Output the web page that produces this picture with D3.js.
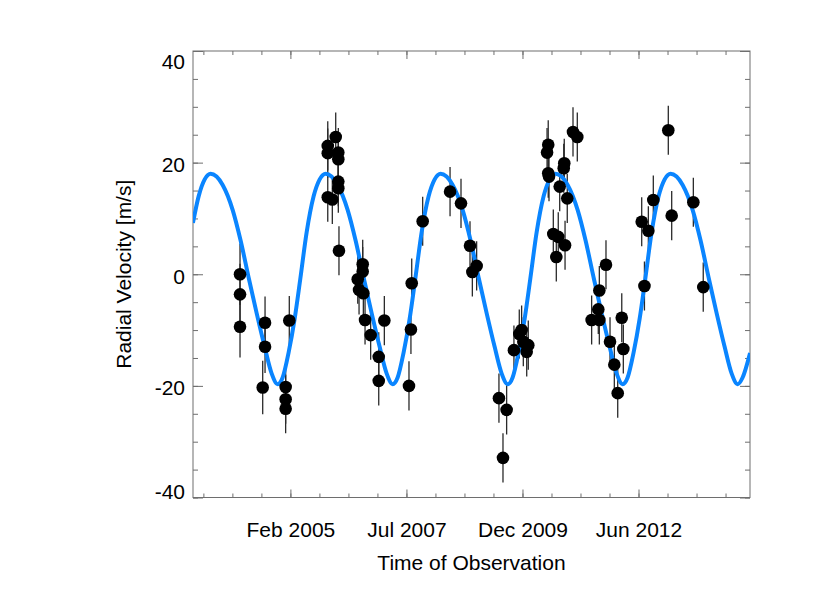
<!DOCTYPE html>
<html>
<head>
<meta charset="utf-8">
<script src="https://cdn.jsdelivr.net/npm/d3@7"></script>
<style>
  body { margin: 0; background: #fff; }
  text { font-family: "Liberation Sans", Arial, sans-serif; }
</style>
</head>
<body>
<script>
// observation times (JD - 2450000), radial velocity (m/s) and error (m/s)
var obsTime = [3025, 3025, 3025, 3199, 3217, 3217, 3375, 3375, 3375, 3403,
  3698, 3698, 3698, 3733, 3759, 3779, 3779, 3779, 3779, 3784,
  3928, 3938, 3966, 3966, 3971, 3984, 4027, 4089, 4089, 4132,
  4321, 4336, 4342, 4426, 4636, 4720, 4789, 4807, 4840,
  5011, 5042, 5070, 5126, 5167, 5185, 5198, 5224, 5236,
  5380, 5389, 5389, 5395, 5428, 5451, 5466, 5477, 5508, 5512, 5518, 5535, 5579, 5612,
  5722, 5773, 5781, 5781, 5832, 5863, 5896, 5922, 5953, 5965,
  6106, 6127, 6157, 6195, 6310, 6336, 6502, 6578];
var velocity = [0.0, -3.6, -9.4, -20.3, -8.7, -13.0, -20.2, -22.4, -24.1, -8.3,
  23.0, 21.7, 13.8, 13.4, 24.6, 21.8, 20.6, 16.6, 15.4, 4.2,
  -0.9, -2.8, 1.8, 0.5, -3.4, -8.2, -10.9, -14.8, -19.1, -8.3,
  -20.0, -9.9, -1.6, 9.5, 14.8, 12.7, 5.1, 0.4, 1.5,
  -22.2, -32.9, -24.3, -13.6, -10.7, -10.0, -12.1, -13.9, -12.7,
  21.8, 23.2, 18.1, 17.5, 7.2, 3.1, 6.7, 15.7, 19.0, 19.9, 5.2, 13.6, 25.5, 24.6,
  -8.2, -6.3, -2.9, -8.2, 1.7, -12.1, -16.2, -21.3, -7.8, -13.4,
  9.4, -2.1, 7.8, 13.3, 25.8, 10.5, 12.9, -2.3];
var velError = [5.5, 5.5, 5.5, 4.8, 4.7, 4.7, 4.4, 4.4, 4.4, 4.4,
  4.4, 4.4, 4.4, 4.4, 4.4, 4.4, 4.4, 4.4, 4.4, 4.4,
  4.4, 4.4, 4.4, 4.4, 4.4, 4.4, 4.4, 4.4, 4.4, 4.4,
  4.4, 4.4, 4.4, 4.4, 4.4, 4.4, 4.4, 4.4, 4.4,
  4.4, 4.4, 4.4, 4.4, 4.4, 4.4, 4.4, 4.4, 4.4,
  4.4, 4.4, 4.4, 4.4, 4.4, 4.4, 4.4, 4.4, 4.4, 4.4, 4.4, 4.4, 4.4, 4.4,
  4.4, 4.4, 4.4, 4.4, 4.4, 4.4, 4.4, 4.4, 4.4, 4.4,
  4.4, 4.4, 4.4, 4.4, 4.4, 4.4, 4.4, 4.4];

// fitted orbit curve (JD - 2450000, m/s)
var modelTime = [2664, 2708, 2754,
  2800, 2892, 2969, 3030, 3094, 3153, 3214, 3268, 3314, 3352, 3398, 3444, 3487, 3536, 3590, 3636,
  3682, 3774, 3851, 3912, 3976, 4035, 4096, 4150, 4196, 4234, 4280, 4326, 4369, 4418, 4472, 4518,
  4564, 4656, 4733, 4794, 4858, 4917, 4978, 5032, 5078, 5116, 5162, 5208, 5251, 5300, 5354, 5400,
  5446, 5538, 5615, 5676, 5740, 5799, 5860, 5914, 5960, 5998, 6044, 6090, 6133, 6182, 6236, 6282,
  6328, 6420, 6497, 6558, 6622, 6681, 6742, 6796, 6842, 6880, 6937];
var modelVel = [9.2, 14, 17,
  18, 16, 11.5, 6, -0.9, -7, -13, -17.8, -19.7, -18.5, -14, -8, -0.9, 7.5, 14, 17,
  18, 16, 11.5, 6, -0.9, -7, -13, -17.8, -19.7, -18.5, -14, -8, -0.9, 7.5, 14, 17,
  18, 16, 11.5, 6, -0.9, -7, -13, -17.8, -19.7, -18.5, -14, -8, -0.9, 7.5, 14, 17,
  18, 16, 11.5, 6, -0.9, -7, -13, -17.8, -19.7, -18.5, -14, -8, -0.9, 7.5, 14, 17,
  18, 16, 11.5, 6, -0.9, -7, -13, -17.8, -19.7, -18.5, -14.1];

var timeRange = [2664.4, 6936.6];
var majorTimeTicks = [3411.5, 4301.5, 5191.5, 6081.5];
var minorTimeStep = 222.5;
var velTicksMajor = [-40, -20, 0, 20, 40];
var velTicksMinor = d3.range(-40, 41, 5);

function jdToDate(jd) {
  return new Date((jd + 2450000 - 2440587.5) * 864e5);
}

var width = 830, height = 600;
var plotLeft = 193, plotRight = 750, plotTop = 51, plotBottom = 497.5;

var svg = d3.select('body').append('svg')
  .attr('width', width)
  .attr('height', height);

var xScale = d3.scaleUtc()
  .domain(timeRange.map(jdToDate))
  .range([plotLeft, plotRight]);
var yScale = d3.scaleLinear()
  .domain([-40, 40])
  .range([plotBottom, plotTop]);

svg.append('clipPath').attr('id', 'plotClip')
  .append('rect')
  .attr('x', plotLeft).attr('y', plotTop)
  .attr('width', plotRight - plotLeft).attr('height', plotBottom - plotTop);

// minor x ticks
var minorX = d3.range(majorTimeTicks[0] - 3 * minorTimeStep, timeRange[1], minorTimeStep)
  .map(jdToDate);
var fmt = d3.utcFormat('%b %Y');

function axisStyle(g) {
  g.select('.domain').remove();
  g.selectAll('.tick line').attr('stroke', '#6e6e6e').attr('stroke-width', 1);
  g.selectAll('.tick text')
    .attr('fill', '#000')
    .style('font-size', '21px')
    .style('font-family', '"Liberation Sans", Arial, sans-serif');
}

// bottom axis
svg.append('g').attr('transform', 'translate(0,' + plotBottom + ')')
  .call(d3.axisBottom(xScale).tickValues(minorX).tickSize(-4).tickFormat(''))
  .call(axisStyle);
svg.append('g').attr('transform', 'translate(0,' + plotBottom + ')')
  .call(d3.axisBottom(xScale).tickValues(majorTimeTicks.map(jdToDate))
    .tickSize(-8).tickPadding(25).tickFormat(fmt))
  .call(axisStyle);
// top axis
svg.append('g').attr('transform', 'translate(0,' + plotTop + ')')
  .call(d3.axisTop(xScale).tickValues(minorX).tickSize(-4).tickFormat(''))
  .call(axisStyle);
svg.append('g').attr('transform', 'translate(0,' + plotTop + ')')
  .call(d3.axisTop(xScale).tickValues(majorTimeTicks.map(jdToDate)).tickSize(-8).tickFormat(''))
  .call(axisStyle);

// left axis
svg.append('g').attr('transform', 'translate(' + plotLeft + ',0)')
  .call(d3.axisLeft(yScale).tickValues(velTicksMinor).tickSize(-5).tickFormat(''))
  .call(axisStyle);
var yLabels = svg.append('g').attr('transform', 'translate(' + plotLeft + ',0)')
  .call(d3.axisLeft(yScale).tickValues(velTicksMajor).tickSize(-10).tickPadding(8)
    .tickFormat(function(d) { return String(d); }))
  .call(axisStyle);
yLabels.selectAll('.tick text')
  .attr('dy', function(d) {
    if (d === 40) return '0.85em';
    if (d === -40) return '0.05em';
    return '0.42em';
  });
// right axis
svg.append('g').attr('transform', 'translate(' + plotRight + ',0)')
  .call(d3.axisRight(yScale).tickValues(velTicksMinor).tickSize(-5).tickFormat(''))
  .call(axisStyle);
svg.append('g').attr('transform', 'translate(' + plotRight + ',0)')
  .call(d3.axisRight(yScale).tickValues(velTicksMajor).tickSize(-10).tickFormat(''))
  .call(axisStyle);

// frame
svg.append('rect')
  .attr('x', plotLeft).attr('y', plotTop)
  .attr('width', plotRight - plotLeft).attr('height', plotBottom - plotTop)
  .attr('fill', 'none')
  .attr('stroke', '#6e6e6e')
  .attr('stroke-width', 1);

var plot = svg.append('g').attr('clip-path', 'url(#plotClip)');

// error bars
plot.selectAll('line.err')
  .data(obsTime)
  .enter()
  .append('line')
  .attr('class', 'err')
  .attr('x1', function(d) { return xScale(jdToDate(d)); })
  .attr('x2', function(d) { return xScale(jdToDate(d)); })
  .attr('y1', function(d, i) { return yScale(velocity[i] - velError[i]); })
  .attr('y2', function(d, i) { return yScale(velocity[i] + velError[i]); })
  .attr('stroke', '#2a2a2a')
  .attr('stroke-width', 1.3);

// orbit model
var modelLine = d3.line()
  .x(function(d) { return xScale(jdToDate(d[0])); })
  .y(function(d) { return yScale(d[1]); })
  .curve(d3.curveMonotoneX);
plot.append('path')
  .datum(modelTime.map(function(t, i) { return [t, modelVel[i]]; }))
  .attr('d', modelLine)
  .attr('fill', 'none')
  .attr('stroke', '#0a85ff')
  .attr('stroke-width', 4);

// observations
plot.selectAll('circle')
  .data(obsTime)
  .enter()
  .append('circle')
  .attr('cx', function(d) { return xScale(jdToDate(d)); })
  .attr('cy', function(d, i) { return yScale(velocity[i]); })
  .attr('r', 6.3)
  .attr('fill', '#000');

// axis titles
svg.append('text')
  .attr('x', (plotLeft + plotRight) / 2)
  .attr('y', 570)
  .attr('text-anchor', 'middle')
  .style('font-size', '21px')
  .text('Time of Observation');
svg.append('text')
  .attr('transform', 'translate(131,' + ((plotTop + plotBottom) / 2) + ') rotate(-90)')
  .attr('text-anchor', 'middle')
  .style('font-size', '21px')
  .text('Radial Velocity [m/s]');
</script>
</body>
</html>
